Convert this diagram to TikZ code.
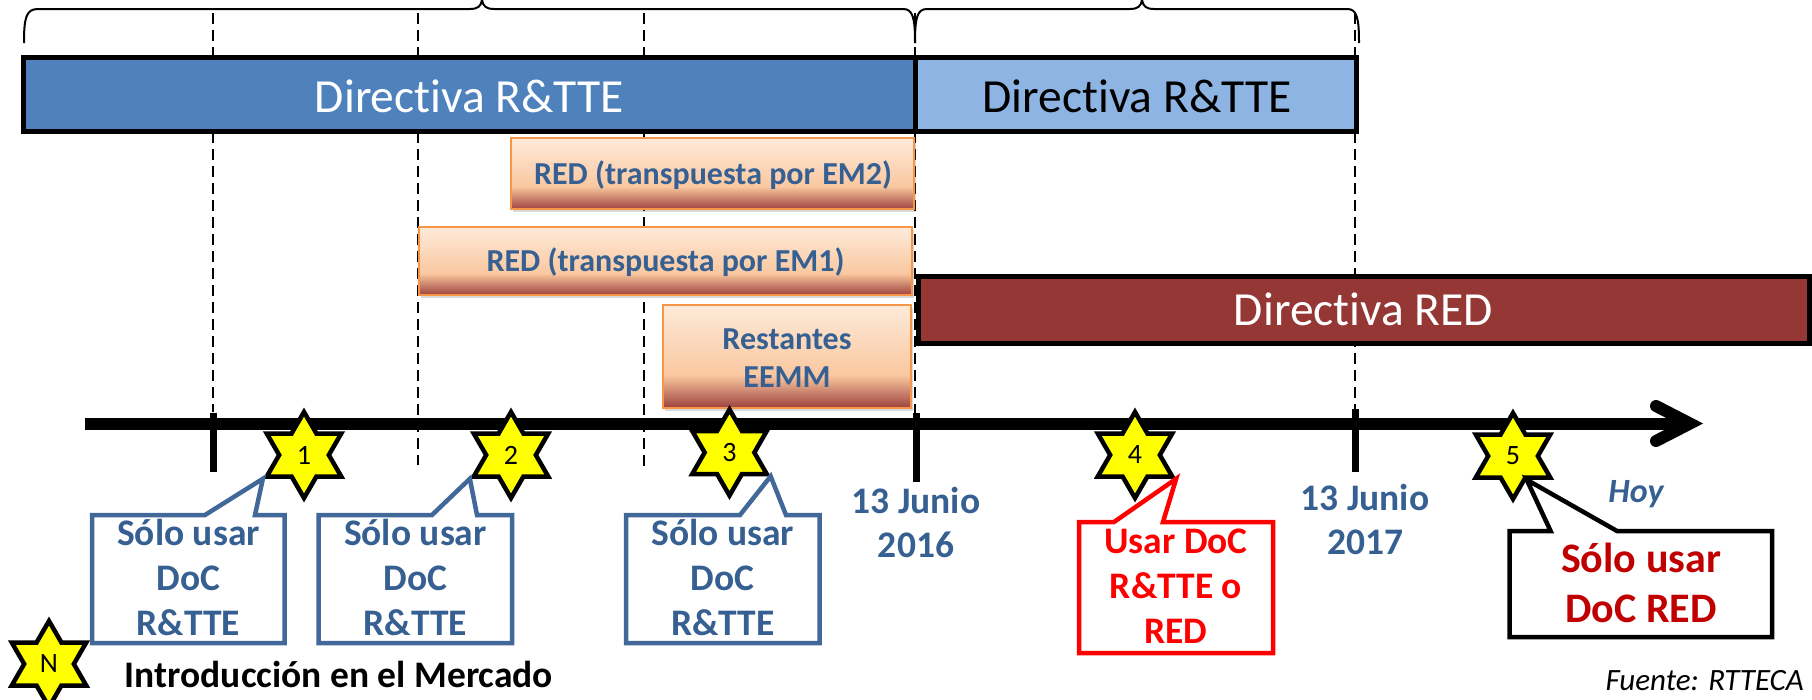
\documentclass[tikz,border=0pt]{standalone}
\usepackage{fontspec}
\setmainfont{Carlito}[Ligatures=NoCommon]
\usetikzlibrary{shapes.geometric,shadows}

\definecolor{barblue}{RGB}{79,129,189}
\definecolor{barlight}{RGB}{141,180,226}
\definecolor{barred}{RGB}{149,55,53}
\definecolor{txtblue}{RGB}{55,96,146}
\definecolor{callblue}{RGB}{65,104,152}
\definecolor{boxorange}{RGB}{247,150,70}
\definecolor{darkred}{RGB}{192,0,0}
\definecolor{pureRed}{RGB}{255,0,0}
\definecolor{starfill}{RGB}{255,255,0}
\definecolor{gtop}{RGB}{253,234,218}
\definecolor{gmid}{RGB}{250,200,160}
\definecolor{gbot}{RGB}{158,66,62}

\pgfdeclareverticalshading{redgrad}{100bp}{color(0bp)=(gbot); color(25bp)=(gbot); color(41bp)=(gmid); color(75bp)=(gtop); color(100bp)=(gtop)}

\tikzset{
  bar/.style={draw=black, line width=5pt},
  redbox/.style={draw=boxorange, line width=2pt, shading=redgrad,
     drop shadow={shadow xshift=2pt, shadow yshift=-3pt, opacity=0.25, fill=black!60}},
  guide/.style={draw=black, line width=1.6pt, dash pattern=on 11pt off 6pt},
  tickmark/.style={draw=black, line width=7pt},
  brace/.style={draw=black, line width=2pt},
  starn/.style={star, star points=6, star point ratio=1.732, minimum size=86pt,
     inner sep=0pt, draw=black, line width=4.5pt, fill=starfill,
     font=\fontsize{28}{28}\selectfont},
  txt/.style={anchor=base, inner sep=0pt},
  bartext/.style={txt, font=\fontsize{47.5}{47.5}\selectfont},
  boxtext/.style={txt, text=txtblue, font=\fontsize{32}{32}\selectfont\bfseries},
  calltext/.style={txt, font=\fontsize{37.5}{37.5}\selectfont\bfseries},
  bigcall/.style={txt, font=\fontsize{42}{42}\selectfont\bfseries},
  callout/.style={line width=4.5pt, line join=miter, fill=white},
}

\begin{document}
\begin{tikzpicture}[x=1pt, y=-1pt]
\useasboundingbox (0,0) rectangle (1812,699);

% braces
\draw[brace] (24,43) .. controls (24,18) and (26,9) .. (38,9) -- (470,9)
  .. controls (478,9) and (481,6) .. (482,0) .. controls (483,6) and (486,9) .. (494,9)
  -- (903,9) .. controls (913,9) and (915,18) .. (915,43);
\draw[brace] (915,43) .. controls (915,18) and (917,9) .. (927,9) -- (1130,9)
  .. controls (1138,9) and (1141,6) .. (1142,0) .. controls (1143,6) and (1146,9) .. (1154,9)
  -- (1347,9) .. controls (1357,9) and (1359,18) .. (1359,43);

% dashed guides
\draw[guide] (213,13) -- (213,412);
\draw[guide] (418,13) -- (418,465);
\draw[guide] (644,13) -- (644,466);
\draw[guide] (915,13) -- (915,413);
\draw[guide] (1355,13) -- (1355,409);

% bars
\path[bar, fill=barblue] (23,57) rectangle (915,131);
\path[bar, fill=barlight] (915,57) rectangle (1356,131);
\path[bar, fill=barred] (918,276) rectangle (1809,343);
\node[bartext, text=white] (rtte1) at (469.5,112) {Directiva R\&TTE};
\node[bartext, text=black] (rtte2) at (1137,112) {Directiva R\&TTE};
\node[bartext, text=white] (redbar) at (1363.5,325) {Directiva RED};

% RED transposition boxes
\path[redbox] (511,138) rectangle (914,209);
\path[redbox] (419,227) rectangle (912,295);
\path[redbox] (663,305) rectangle (911,408);
\node[boxtext] (em2) at (713,184.5) {RED (transpuesta por EM2)};
\node[boxtext] (em1) at (665.5,271.5) {RED (transpuesta por EM1)};
\node[boxtext] (rest1) at (787,349) {Restantes};
\node[boxtext] (rest2) at (787,387) {EEMM};

% axis
\coordinate (axL) at (85,423.5);
\coordinate (axR) at (1690,423.5);
\draw[line width=12pt] (axL) -- (axR);
\draw[line width=12pt, line cap=round, line join=miter] (1656,406) -- (axR) -- (1656,441);
\draw[tickmark] (213,412.7) -- (213,471.7);
\draw[tickmark] (916,413) -- (916,482);
\draw[tickmark] (1355,409) -- (1355,472);

% stars
\node[starn] (s1) at (304,455) {1};
\node[starn] (s2) at (511,455) {2};
\node[starn] (s3) at (729.5,452.5) {3};
\node[starn] (s4) at (1135,455) {4};
\node[starn] (s5) at (1513,456) {5};
\node[starn] (sN) at (49,664) {N};

% callouts
\draw[callout, draw=callblue] (92,515) -- (205,515) -- (s1.outer point 3) -- (255,515)
  -- (284.5,515) -- (284.5,643) -- (92,643) -- cycle;
\draw[callout, draw=callblue] (318.7,515) -- (432,515) -- (s2.outer point 3) -- (477,515)
  -- (512,515) -- (512,643) -- (318.7,643) -- cycle;
\draw[callout, draw=callblue] (626,515) -- (740,515) -- (s3.outer point 5) -- (786,515)
  -- (819.5,515) -- (819.5,643) -- (626,643) -- cycle;
\draw[callout, draw=pureRed] (1079,522) -- (1114,522) -- (s4.outer point 5) -- (1163,522)
  -- (1273,522) -- (1273,653) -- (1079,653) -- cycle;
\draw[callout, draw=black] (1509.5,531) -- (1550.6,531) -- (s5.inner point 4) -- (1617,531)
  -- (1772,531) -- (1772,637) -- (1509.5,637) -- cycle;

\node[calltext, text=txtblue] (c1a) at (188.5,545) {Sólo usar};
\node[calltext, text=txtblue] (c1b) at (188.5,590) {DoC};
\node[calltext, text=txtblue] (c1c) at (188.5,635) {R\&TTE};
\node[calltext, text=txtblue] (c2a) at (415.4,545) {Sólo usar};
\node[calltext, text=txtblue] (c2b) at (415.4,590) {DoC};
\node[calltext, text=txtblue] (c2c) at (415.4,635) {R\&TTE};
\node[calltext, text=txtblue] (c3a) at (722.8,545) {Sólo usar};
\node[calltext, text=txtblue] (c3b) at (722.8,590) {DoC};
\node[calltext, text=txtblue] (c3c) at (722.8,635) {R\&TTE};
\node[calltext, text=pureRed] (c4a) at (1176,553) {Usar DoC};
\node[calltext, text=pureRed] (c4b) at (1176,598) {R\&TTE o};
\node[calltext, text=pureRed] (c4c) at (1176,643) {RED};
\node[bigcall, text=darkred] (c5a) at (1641,572) {Sólo usar};
\node[bigcall, text=darkred] (c5b) at (1641,622) {DoC RED};

% dates
\node[calltext, text=txtblue] (d1a) at (916,513) {13 Junio};
\node[calltext, text=txtblue] (d1b) at (916,557) {2016};
\node[calltext, text=txtblue] (d2a) at (1365,510) {13 Junio};
\node[calltext, text=txtblue] (d2b) at (1365,554) {2017};
\node[txt, text=txtblue, font=\fontsize{34}{34}\selectfont\bfseries\itshape] (hoy) at (1636,502) {Hoy};

% legend and source
\node[calltext, anchor=base west, text=black] (legend) at (124.7,687) {Introducción en el Mercado};
\node[txt, anchor=base east, font=\fontsize{31}{31}\selectfont\itshape] (src) at (1804,690) {Fuente: RTTECA};
\end{tikzpicture}
\end{document}
